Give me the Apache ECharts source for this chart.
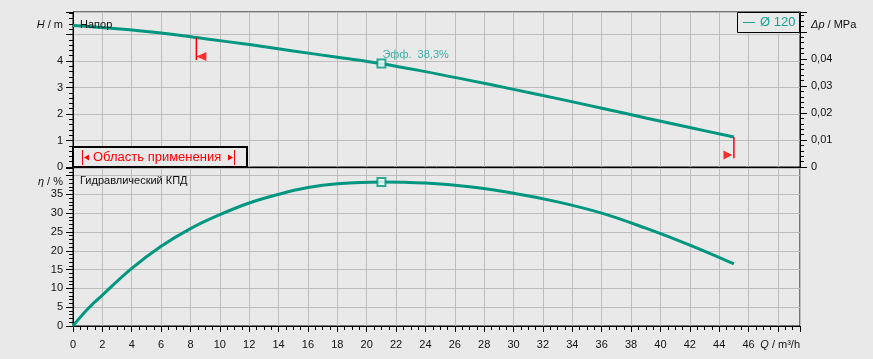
<!DOCTYPE html>
<html><head><meta charset="utf-8">
<script src="https://cdn.jsdelivr.net/npm/echarts@6/dist/echarts.min.js"></script>
<style>html,body{margin:0;padding:0;background:#e9e9e9;}#c{width:873px;height:359px;}</style>
</head><body><div id="c"></div>
<script>
// ---- data ----
const headQ = [0, 3, 6, 9, 12, 15, 18, 21, 24, 27, 30, 33, 36, 39, 42, 45];
const headH = [5.34, 5.22, 5.06, 4.84, 4.62, 4.38, 4.14, 3.90, 3.60, 3.27, 2.93, 2.58, 2.22, 1.85, 1.49, 1.13];
const effQ = [0, 1, 2, 4, 6, 8, 10, 12, 14, 16, 18, 21, 24, 27, 30, 33, 36, 39, 42, 45];
const effEta = [0, 4.5, 8.2, 15.3, 21.2, 25.9, 29.6, 32.7, 35.0, 36.8, 37.8, 38.3, 38.0, 37.0, 35.3, 33.0, 30.0, 26.0, 21.5, 16.5];
const bestQ = 21, bestH = 3.91, bestEta = 38.3;
const limitQ = [8.4, 45];
const limitTopH = [4.88, 1.13];
const limitBottomH = [4.04, 0.33];
const limitArrowH = [4.17, 0.45];
const xTickLabels = [0,2,4,6,8,10,12,14,16,18,20,22,24,26,28,30,32,34,36,38,40,42,44,46];
const hTickLabels = [0,1,2,3,4];
const dpTickLabels = [0,0.01,0.02,0.03,0.04];
const etaTickLabels = [0,5,10,15,20,25,30,35];

const TEAL = '#00967f', TEAL_TXT = '#14a393', GRIDC = '#bdbdbd', FONT = 'Liberation Sans';
const has = (arr, v) => arr.some(a => Math.abs(a - v) < 1e-9);
const lbl = {color:'#111', fontSize:11, fontFamily:FONT};
const zip = (a, b) => a.map((v, i) => [v, b[i]]);

const chart = echarts.init(document.getElementById('c'), null, {renderer:'canvas'});
const xBase = {type:'value', min:0, max:49.5, interval:2,
  splitLine:{show:true, lineStyle:{color:GRIDC, width:1}},
  axisLine:{show:true, onZero:false, lineStyle:{color:'#000', width:1}}};
chart.setOption({
  animation:false,
  backgroundColor:'#e9e9e9',
  grid:[
    {left:73, top:12, width:727, height:155, show:true, borderColor:'#000', borderWidth:1},
    {left:73, top:168, width:727, height:158, show:true, borderColor:'#000', borderWidth:1}
  ],
  xAxis:[
    Object.assign({gridIndex:0, axisLabel:{show:false}, axisTick:{show:false}}, xBase),
    Object.assign({gridIndex:1,
      axisLabel:Object.assign({margin:13, formatter:v => has(xTickLabels, v) ? String(v) : ''}, lbl),
      axisTick:{show:true, length:6, lineStyle:{color:'#000'}},
      minorTick:{show:true, splitNumber:4, length:4, lineStyle:{color:'#000'}}}, xBase)
  ],
  yAxis:[
    {gridIndex:0, type:'value', min:0, max:5.85, interval:1,
      axisLine:{show:true, lineStyle:{color:'#000'}},
      axisTick:{show:true, length:7, lineStyle:{color:'#000'}},
      minorTick:{show:true, splitNumber:5, length:4, lineStyle:{color:'#000'}},
      splitLine:{show:true, lineStyle:{color:GRIDC}},
      axisLabel:Object.assign({margin:10, formatter:v => has(hTickLabels, v) ? String(v) : ''}, lbl)},
    {gridIndex:0, type:'value', position:'right', min:0, max:5.85/101.97, interval:0.01,
      axisLine:{show:true, lineStyle:{color:'#000'}},
      axisTick:{show:true, length:7, lineStyle:{color:'#000'}},
      minorTick:{show:true, splitNumber:5, length:4, lineStyle:{color:'#000'}},
      splitLine:{show:false},
      axisLabel:Object.assign({margin:11, formatter:v => has(dpTickLabels, v) ? (v === 0 ? '0' : v.toFixed(2).replace('.', ',')) : ''}, lbl)},
    {gridIndex:1, type:'value', min:0, max:42, interval:5,
      axisLine:{show:true, lineStyle:{color:'#000'}},
      axisTick:{show:true, length:7, lineStyle:{color:'#000'}},
      minorTick:{show:true, splitNumber:5, length:4, lineStyle:{color:'#000'}},
      splitLine:{show:true, lineStyle:{color:GRIDC}},
      axisLabel:Object.assign({margin:10, formatter:v => has(etaTickLabels, v) ? String(v) : ''}, lbl)}
  ],
  series:[
    {type:'line', xAxisIndex:0, yAxisIndex:0, data:zip(headQ, headH), smooth:0.4, showSymbol:false,
      lineStyle:{color:TEAL, width:3}, z:3},
    {type:'line', xAxisIndex:1, yAxisIndex:2, data:zip(effQ, effEta), smooth:0.4, showSymbol:false,
      lineStyle:{color:TEAL, width:3}, z:3},
    {type:'line', xAxisIndex:0, yAxisIndex:0, data:[[limitQ[0], limitTopH[0]], [limitQ[0], limitBottomH[0]]],
      showSymbol:false, lineStyle:{color:'#ff0000', width:1.5}, z:4},
    {type:'line', xAxisIndex:0, yAxisIndex:0, data:[[limitQ[1], limitTopH[1]], [limitQ[1], limitBottomH[1]]],
      showSymbol:false, lineStyle:{color:'#ff0000', width:1.5}, z:4},
    {type:'scatter', xAxisIndex:0, yAxisIndex:0, data:[[limitQ[0], limitArrowH[0]]],
      symbol:'triangle', symbolSize:[9,10], symbolRotate:90, symbolOffset:[5,0], itemStyle:{color:'#ff0000'}, z:4},
    {type:'scatter', xAxisIndex:0, yAxisIndex:0, data:[[limitQ[1], limitArrowH[1]]],
      symbol:'triangle', symbolSize:[9,9], symbolRotate:-90, symbolOffset:[-6,0], itemStyle:{color:'#ff0000'}, z:4},
    {type:'scatter', xAxisIndex:0, yAxisIndex:0, data:[[bestQ, bestH]], symbol:'rect', symbolSize:8,
      itemStyle:{color:'#ffffff', borderColor:TEAL, borderWidth:2}, z:5,
      label:{show:true, position:[6,-9], formatter:'Эфф.  38,3%', color:TEAL_TXT, fontSize:11, fontFamily:FONT}},
    {type:'scatter', xAxisIndex:1, yAxisIndex:2, data:[[bestQ, bestEta]], symbol:'rect', symbolSize:8,
      itemStyle:{color:'#ffffff', borderColor:TEAL, borderWidth:2}, z:5}
  ],
  graphic:[
    {type:'text', z:100, style:{text:'{i|H} / m', x:63, y:25, align:'right', verticalAlign:'middle', fill:'#111', fontSize:11, fontFamily:FONT, rich:{i:{fontStyle:'italic', fontSize:11, fontFamily:FONT, fill:'#111'}}}},
    {type:'text', z:100, style:{text:'{i|Δp} / MPa', x:811, y:25, align:'left', verticalAlign:'middle', fill:'#111', fontSize:11, fontFamily:FONT, rich:{i:{fontStyle:'italic', fontSize:11, fontFamily:FONT, fill:'#111'}}}},
    {type:'text', z:100, style:{text:'{i|η} / %', x:63, y:182, align:'right', verticalAlign:'middle', fill:'#111', fontSize:11, fontFamily:FONT, rich:{i:{fontStyle:'italic', fontSize:11, fontFamily:FONT, fill:'#111'}}}},
    {type:'text', z:100, style:{text:'{i|Q} / m³/h', x:800, y:345, align:'right', verticalAlign:'middle', fill:'#111', fontSize:11, fontFamily:FONT, rich:{i:{fontStyle:'italic', fontSize:11, fontFamily:FONT, fill:'#111'}}}},
    {type:'text', z:100, style:{text:'Напор', x:80, y:24.5, verticalAlign:'middle', fill:'#111', fontSize:11, fontFamily:FONT}},
    {type:'text', z:100, style:{text:'Гидравлический КПД', x:80, y:181, verticalAlign:'middle', fill:'#111', fontSize:11, fontFamily:FONT}},
    // legend box
    {type:'rect', z:100, shape:{x:737.5, y:12.5, width:62, height:20}, style:{fill:'#e9e9e9', stroke:'#000', lineWidth:1}},
    {type:'line', z:101, shape:{x1:743, y1:22.5, x2:755, y2:22.5}, style:{stroke:TEAL_TXT, lineWidth:1}},
    {type:'text', z:101, style:{text:'Ø 120', x:760, y:22.5, verticalAlign:'middle', fill:TEAL_TXT, fontSize:13, fontFamily:FONT}},
    // application range box
    {type:'rect', z:100, shape:{x:73, y:147, width:174, height:20}, style:{fill:'#e9e9e9', stroke:'#000', lineWidth:2}},
    {type:'line', z:101, shape:{x1:82.5, y1:150, x2:82.5, y2:165}, style:{stroke:'#ff0000', lineWidth:1}},
    {type:'polygon', z:101, shape:{points:[[84,157.5],[89,154.5],[89,160.5]]}, style:{fill:'#ff0000'}},
    {type:'text', z:101, style:{text:'Область применения', x:93, y:157.5, verticalAlign:'middle', fill:'#ff0000', fontSize:13, fontFamily:FONT}},
    {type:'polygon', z:101, shape:{points:[[233,157.5],[228,154.5],[228,160.5]]}, style:{fill:'#ff0000'}},
    {type:'line', z:101, shape:{x1:234.5, y1:150, x2:234.5, y2:165}, style:{stroke:'#ff0000', lineWidth:1}}
  ]
});
</script></body></html>
